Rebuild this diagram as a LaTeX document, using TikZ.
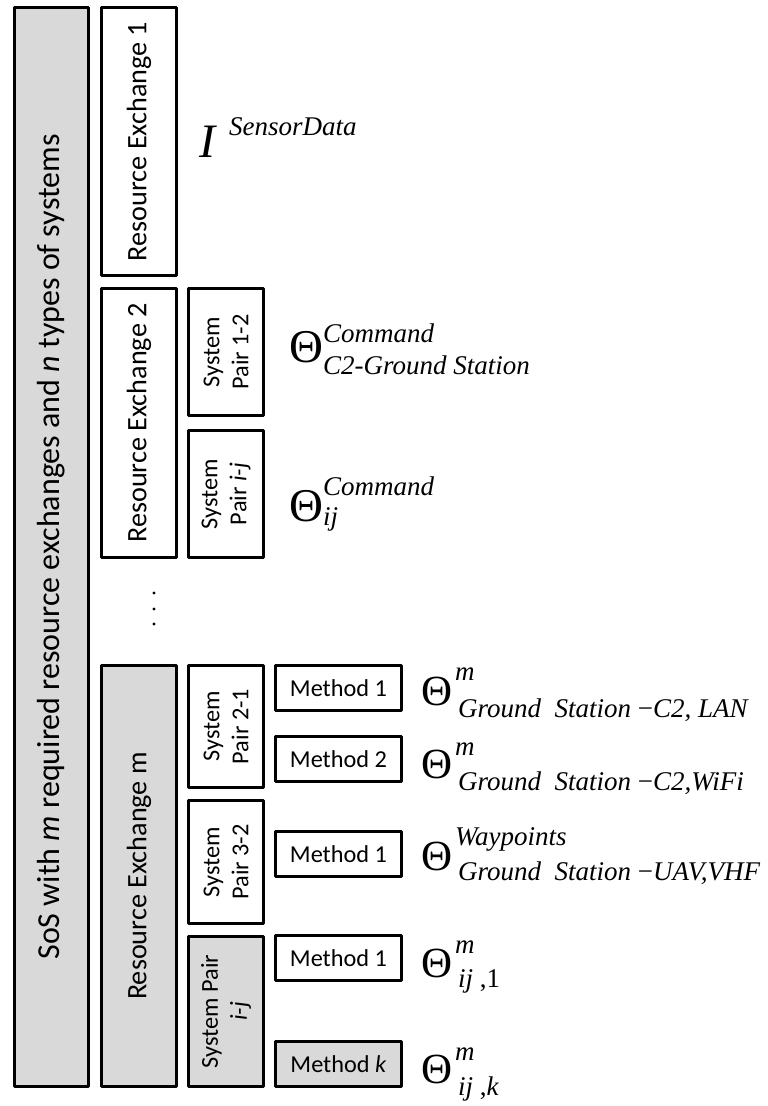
\documentclass[tikz,border=0pt]{standalone}
\usepackage{fontspec}
\setmainfont{Carlito}
\newfontfamily\tnr{Liberation Serif}
\definecolor{boxgray}{HTML}{D9D9D9}
\tikzset{
  bx/.style={draw, line width=3.3pt, line join=round, inner sep=0pt, align=center},
  vbx/.style={bx, rotate=90},
  gr/.style={fill=boxgray},
  fbig/.style={font=\fontsize{32}{38}\selectfont},
  fre/.style={font=\fontsize{28.2}{33}\selectfont},
  fsp/.style={font=\fontsize{24.3}{29}\selectfont},
  lbl/.style={anchor=base west, inner sep=0pt},
  thbig/.style={lbl, font=\tnr\fontsize{47}{50}\selectfont},
  thsm/.style={lbl, font=\tnr\fontsize{43}{46}\selectfont},
  scr/.style={lbl, font=\tnr\itshape\fontsize{27}{30}\selectfont},
}
\begin{document}
\begin{tikzpicture}[x=1pt, y=-1pt]
\useasboundingbox (0,0) rectangle (768,1106);
% outer
\node[vbx, gr, fbig, minimum width=1078.7pt, minimum height=73.7pt] (sos) at (51.5,547)
  {SoS with \textit{m} required resource exchanges and \textit{n} types of systems};
% resource exchanges
\node[vbx, fre, minimum width=267.7pt, minimum height=74.7pt] (re1) at (139,141.5) {Resource Exchange 1};
\node[vbx, fre, minimum width=268.7pt, minimum height=74.7pt] (re2) at (139,423) {Resource Exchange 2};
\node[vbx, gr, fre, minimum width=420.7pt, minimum height=74.7pt] (rem) at (139,876) {Resource Exchange m};
% system pairs
\node[vbx, fsp, minimum width=126.7pt, minimum height=74.7pt] (sp12) at (226,352) {System\\Pair 1-2};
\node[vbx, fsp, minimum width=126.7pt, minimum height=74.7pt] (spij) at (226,494) {System\\Pair \textit{i-j}};
\node[vbx, fsp, minimum width=121.7pt, minimum height=74.7pt] (sp21) at (226,726.5) {System\\Pair 2-1};
\node[vbx, fsp, minimum width=122.7pt, minimum height=74.7pt] (sp32) at (226,862) {System\\Pair 3-2};
\node[vbx, gr, fsp, minimum width=149.7pt, minimum height=74.7pt] (spijm) at (226,1011.5) {System Pair\\\textit{i-j}};
% methods
\node[bx, fsp, minimum width=125.7pt, minimum height=44.7pt] (m1a) at (338.5,688) {Method 1};
\node[bx, fsp, minimum width=125.7pt, minimum height=44.7pt] (m2) at (338.5,759) {Method 2};
\node[bx, fsp, minimum width=125.7pt, minimum height=44.7pt] (m1b) at (338.5,854) {Method 1};
\node[bx, fsp, minimum width=125.7pt, minimum height=44.7pt] (m1c) at (338.5,958) {Method 1};
\node[bx, gr, fsp, minimum width=125.7pt, minimum height=44.7pt] (mk) at (338.5,1064) {Method \textit{k}};
% dots
\fill (154,593) circle (1.7);
\fill (154,609) circle (1.7);
\fill (154,624) circle (1.7);
% labels
\node[lbl, font=\tnr\itshape\fontsize{48}{50}\selectfont] (iA) at (199,157) {I};
\node[scr] (iS) at (229,135) {SensorData};
\node[thbig] (t1) at (289,362) {Θ};
\node[scr] (t1p) at (323,342) {Command};
\node[scr] (t1b) at (323,374) {C2-Ground Station};
\node[thbig] (t2) at (289,521) {Θ};
\node[scr] (t2p) at (323,495) {Command};
\node[scr] (t2b) at (323,525) {ij};
\node[thsm] (t3) at (421,705) {Θ};
\node[scr] (t3p) at (455,680) {m};
\node[scr] (t3b) at (458,717) {Ground\ \ Station {\upshape −}C2, LAN};
\node[thsm] (t4) at (421,778) {Θ};
\node[scr] (t4p) at (455,755) {m};
\node[scr] (t4b) at (458,790) {Ground\ \ Station {\upshape −}C2,WiFi};
\node[thsm] (t5) at (421,870) {Θ};
\node[scr] (t5p) at (455,845) {Waypoints};
\node[scr] (t5b) at (458,880) {Ground\ \ Station {\upshape −}UAV,VHF};
\node[thsm] (t6) at (421,977) {Θ};
\node[scr] (t6p) at (455,953) {m};
\node[scr] (t6b) at (458,987) {ij {\upshape ,1}};
\node[thsm] (t7) at (421,1083) {Θ};
\node[scr] (t7p) at (455,1060) {m};
\node[scr] (t7b) at (458,1095) {ij {\upshape ,}k};
\end{tikzpicture}
\end{document}
